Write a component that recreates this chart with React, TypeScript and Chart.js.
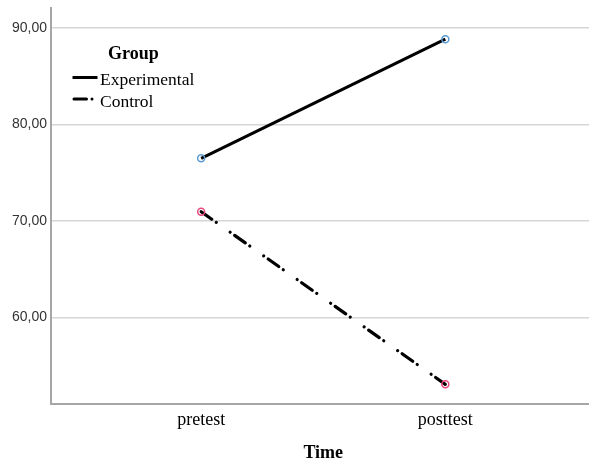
import React, { useEffect, useRef } from "react";
import { Chart, registerables } from "chart.js";

Chart.register(...registerables);

const categories = ["pretest", "posttest"];
const experimental = [76.5, 88.86];
const control = [70.96, 53.04];
const yTickValues = [60, 70, 80, 90];
const seriesLabels = ["Experimental", "Control"];
const legendTitle = "Group";
const xTitle = "Time";

const controlDash = [13, 5.5, 0.01, 17, 0.01, 5.5];

const innerLegend = {
  id: "innerLegend",
  afterDatasetsDraw(chart: any) {
    const ctx = chart.ctx;
    ctx.save();
    ctx.fillStyle = "#000";
    ctx.textAlign = "left";
    ctx.textBaseline = "alphabetic";
    ctx.font = "bold 18px 'Liberation Serif'";
    ctx.fillText(legendTitle, 108, 59);
    chart.data.datasets.forEach((ds: any, i: number) => {
      const y = 77.5 + i * 21.5;
      ctx.strokeStyle = "#000";
      ctx.lineWidth = 3;
      ctx.beginPath();
      if (i === 0) {
        ctx.lineCap = "butt";
        ctx.setLineDash([]);
        ctx.moveTo(72.5, y);
        ctx.lineTo(97.5, y);
      } else {
        ctx.lineCap = "round";
        ctx.setLineDash([12.5, 5.5, 0.01, 30]);
        ctx.moveTo(74, y);
        ctx.lineTo(96, y);
      }
      ctx.stroke();
      ctx.setLineDash([]);
      ctx.font = "17.5px 'Liberation Serif'";
      ctx.fillText(ds.label, 100, y + 7.5);
    });
    ctx.restore();
  },
};

export default function App() {
  const ref = useRef<HTMLCanvasElement | null>(null);

  useEffect(() => {
    if (!ref.current) return;
    const chart = new Chart(ref.current, {
      type: "line",
      data: {
        datasets: [
          {
            label: seriesLabels[0],
            data: experimental.map((v, i) => ({ x: i, y: v })),
            borderColor: "#000",
            borderWidth: 3,
            pointRadius: 3.5,
            pointBorderWidth: 1.5,
            pointBorderColor: "#5b9bd5",
            pointBackgroundColor: "rgba(0,0,0,0)",
            fill: false,
          },
          {
            label: seriesLabels[1],
            data: control.map((v, i) => ({ x: i, y: v })),
            borderColor: "#000",
            borderWidth: 3.2,
            borderDash: controlDash,
            borderCapStyle: "round",
            pointRadius: 3.5,
            pointBorderWidth: 1.5,
            pointBorderColor: "#e8467c",
            pointBackgroundColor: "rgba(0,0,0,0)",
            fill: false,
          },
        ],
      },
      options: {
        animation: false,
        responsive: false,
        devicePixelRatio: 1,
        layout: { padding: { top: 8, left: 0, right: 0, bottom: 0 } },
        plugins: {
          legend: { display: false },
          tooltip: { enabled: false },
        },
        scales: {
          x: {
            type: "linear",
            min: -0.615,
            max: 1.615,
            afterBuildTicks: (scale: any) => {
              scale.ticks = categories.map((_, i) => ({ value: i }));
            },
            afterFit: (scale: any) => {
              scale.height = 58;
              scale.paddingLeft = 0;
              scale.paddingRight = 0;
            },
            grid: { display: false, drawTicks: false },
            border: { display: true, color: "#a6a6a6", width: 2 },
            ticks: {
              autoSkip: false,
              maxRotation: 0,
              padding: 5,
              color: "#000",
              font: { family: "'Liberation Serif'", size: 18 },
              callback: (v: any) => categories[v] ?? "",
            },
            title: {
              display: true,
              text: xTitle,
              color: "#000",
              font: { family: "'Liberation Serif'", size: 18, weight: "bold", lineHeight: 1 },
              padding: { top: 0, bottom: 0 },
            },
          },
          y: {
            type: "linear",
            min: 51,
            max: 92.1,
            afterBuildTicks: (scale: any) => {
              scale.ticks = yTickValues.map((v) => ({ value: v }));
            },
            afterFit: (scale: any) => {
              scale.width = 51;
              scale.paddingTop = 0;
              scale.paddingBottom = 0;
            },
            grid: { color: "#d6d6d6", lineWidth: 1.5, drawTicks: false },
            border: { display: true, color: "#a6a6a6", width: 2 },
            ticks: {
              padding: 4,
              color: "#333",
              font: { family: "'Liberation Sans'", size: 14 },
              callback: (v: any) => Number(v).toFixed(2).replace(".", ","),
            },
          },
        },
      },
      plugins: [innerLegend],
    } as any);
    return () => chart.destroy();
  }, []);

  return (
    <div
      style={{
        position: "fixed",
        left: 0,
        top: 0,
        width: 589,
        height: 462,
        overflow: "hidden",
        background: "#fff",
      }}
    >
      <canvas ref={ref} width={601} height={462} style={{ width: 601, height: 462, display: "block" }} />
    </div>
  );
}
